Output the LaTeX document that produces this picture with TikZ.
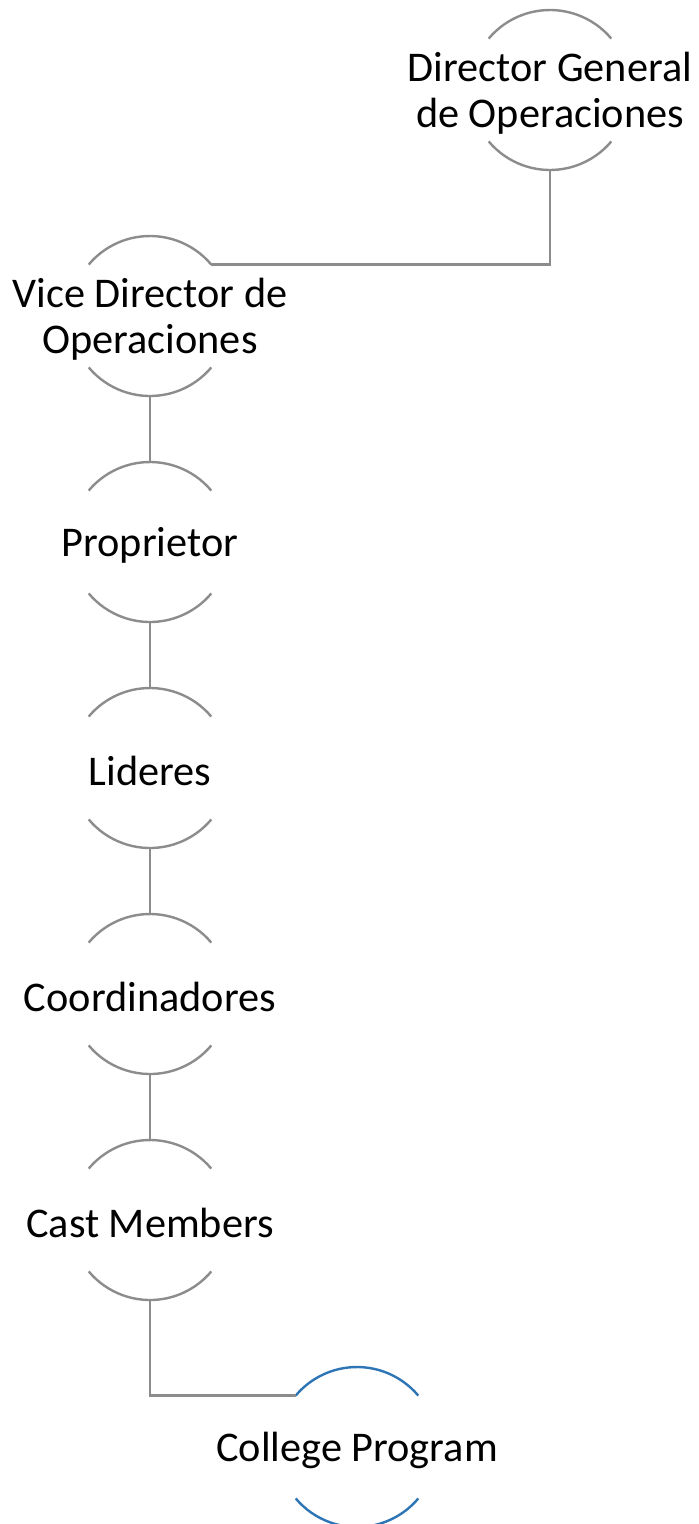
\documentclass[tikz,border=0pt]{standalone}
\usepackage{fontspec}
\setmainfont{Carlito}
\usetikzlibrary{positioning}
\definecolor{linegray}{RGB}{140,140,140}
\definecolor{progblue}{RGB}{46,117,182}
\tikzset{unit/.style={circle, inner sep=0pt, outer sep=0pt, minimum size=160pt}}
\tikzset{unit text/.style={font=\fontsize{42.3}{46}\selectfont, align=center, inner sep=0pt, yshift=-3pt}}
\tikzset{link/.style={draw=linegray, line width=2.4pt}}
\tikzset{prog link/.style={draw=progblue, line width=2.4pt}}

\begin{document}
\begin{tikzpicture}[x=1pt, y=1pt]
  \useasboundingbox (0,0) rectangle (699,-1524);

  \node [unit, label={[unit text]center:Director General\\de Operaciones}] (dg) at (550,-90) {};
  \node [unit, label={[unit text]center:Vice Director de\\Operaciones}] (vd) at (150,-316) {};
  \node [unit, below=66pt of vd, label={[unit text]center:Proprietor}] (pr) {};
  \node [unit, below=66pt of pr, label={[unit text]center:Lideres}] (li) {};
  \node [unit, below=66pt of li, label={[unit text]center:Coordinadores}] (co) {};
  \node [unit, below=66pt of co, label={[unit text]center:Cast Members}] (cm) {};
  \node [unit, label={[unit text]center:College Program}] (cp) at (357,-1447) {};

  % open circles
  \foreach \u in {dg,vd,pr,li,co,cm}
    \draw [link] (\u.40) arc[start angle=40, end angle=140, radius=80pt]
                 (\u.220) arc[start angle=220, end angle=320, radius=80pt];
  \draw [prog link] (cp.40) arc[start angle=40, end angle=140, radius=80pt]
                    (cp.220) arc[start angle=220, end angle=320, radius=80pt];

  % connectors
  \draw [link] (dg.south) |- (vd.40);
  \draw [link] (vd.south) -- (pr.north);
  \draw [link] (pr.south) -- (li.north);
  \draw [link] (li.south) -- (co.north);
  \draw [link] (co.south) -- (cm.north);
  \draw [link] (cm.south) |- (cp.140);
\end{tikzpicture}
\end{document}
